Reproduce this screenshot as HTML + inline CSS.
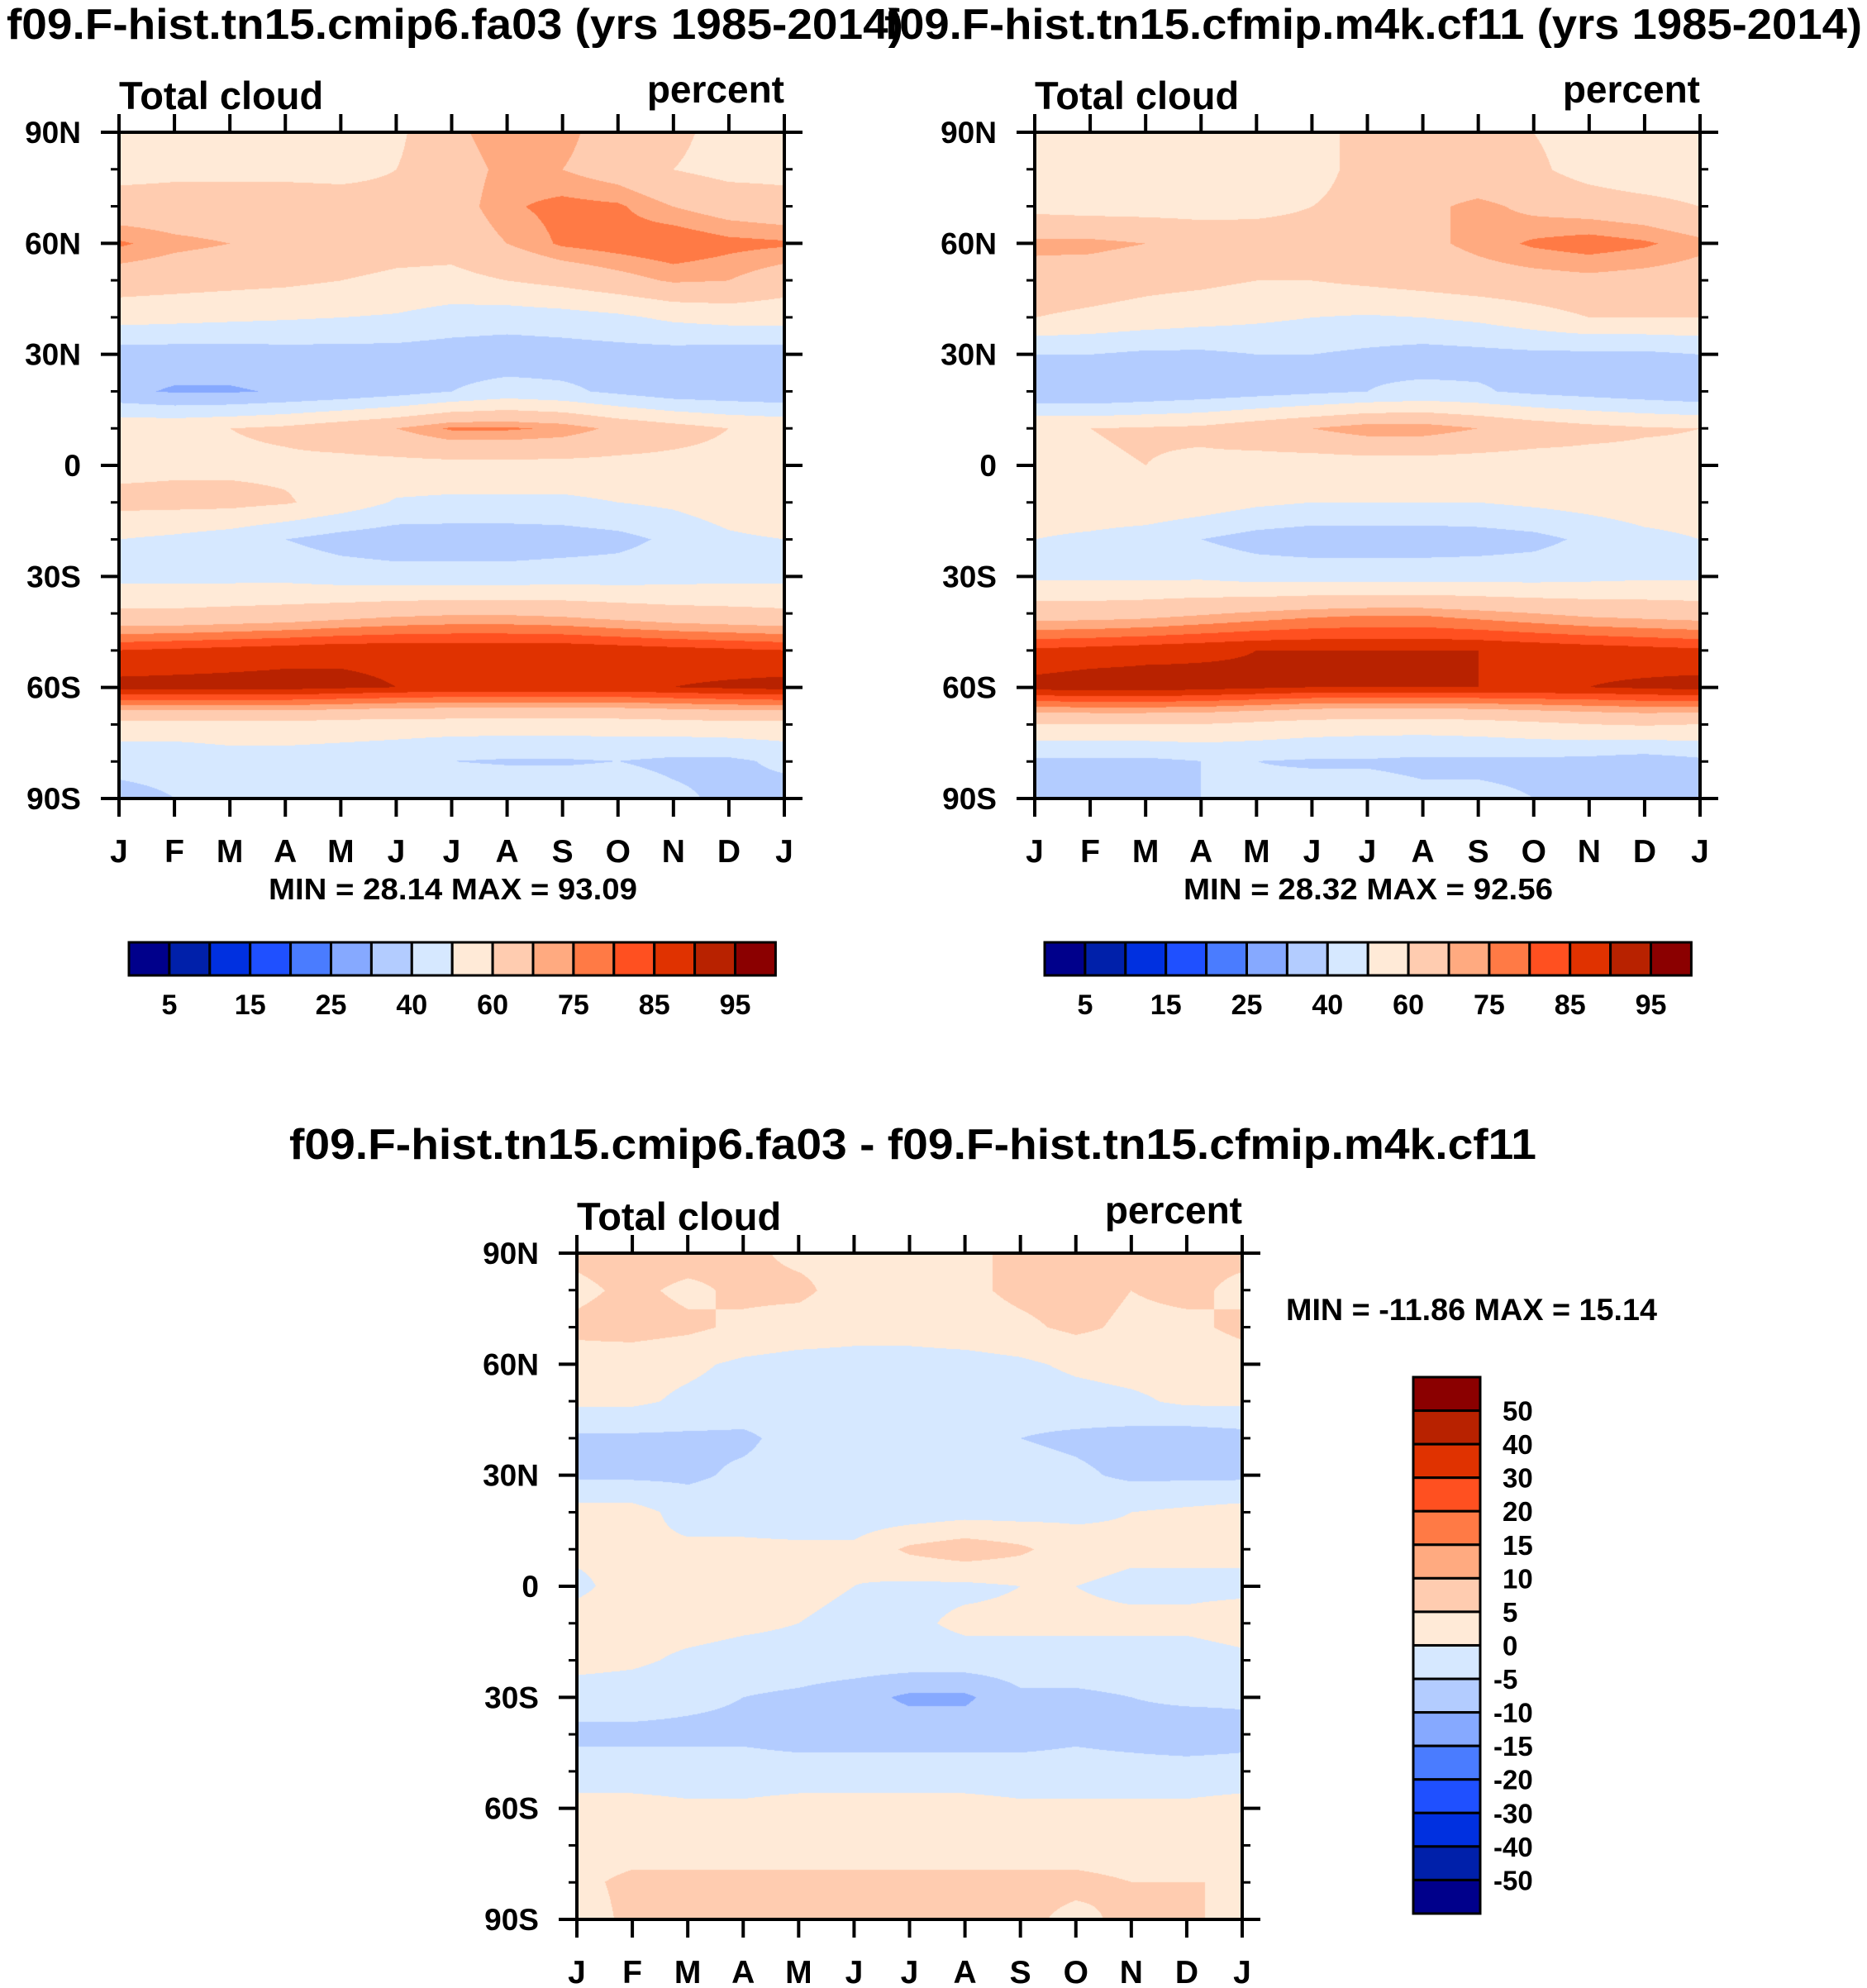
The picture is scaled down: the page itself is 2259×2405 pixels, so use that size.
<!DOCTYPE html>
<html><head><meta charset="utf-8">
<style>
html,body{margin:0;padding:0;background:#fff;}
#root{position:relative;width:2259px;height:2405px;overflow:hidden;font-family:"Liberation Sans",Arial,sans-serif;}
canvas{position:absolute;}
svg{position:absolute;left:0;top:0;}
</style></head>
<body>
<div id="root">
<canvas id="c1" width="805" height="806" style="left:144px;top:160px"></canvas>
<canvas id="c2" width="805" height="806" style="left:1252px;top:160px"></canvas>
<canvas id="c3" width="805" height="806" style="left:698px;top:1516px"></canvas>
<svg id="ov" width="2259" height="2405"></svg>
</div>
<script>
const months = ["J","F","M","A","M","J","J","A","S","O","N","D","J"];
const latLabels = ["90N","60N","30N","0","30S","60S","90S"];
const levelsAbs = [5,10,15,20,25,30,40,50,60,70,75,80,85,90,95];
const levelsDiff = [-50,-40,-30,-20,-15,-10,-5,0,5,10,15,20,30,40,50];
const cbLabelsAbs = ["5","15","25","40","60","75","85","95"];
const cbLabelsDiff = ["50","40","30","20","15","10","5","0","-5","-10","-15","-20","-30","-40","-50"];
const palette = ["#00008b","#0020aa","#0030e0","#1f50ff","#4a7cff","#86a9ff","#b3ccff","#d6e8ff",
 "#ffead7","#ffccb0","#ffaa80","#ff7a45","#ff5020","#e03200","#b82200","#8b0000"];
// rows: 90N,80N,...,90S ; columns J..J (13)
const fa03 = [
[56,56,57,57,56,58,68,74,72,66,62,57,56],
[57,58,58,58,58,60,66,72,70,66,60,57,57],
[64,64,64,64,63,62,66,74,77,76,70,66,64],
[76,72,70,67,66,64,64,70,76,78,80,77,76],
[65,64,63,62,60,58,57,60,63,67,71,70,65],
[54,53,52,51,50,49,46,45,46,48,52,54,54],
[35,35,35,36,36,36,35,34,35,36,36,35,35],
[32,29,29,31,33,36,40,44,42,38,34,33,32],
[58,58,60,62,66,70,76,76,74,68,64,60,58],
[57,58,58,58,57,57,57,57,57,57,57,57,57],
[63,63,63,61,56,49,48,48,48,50,52,56,60],
[50,48,45,40,36,34,34,34,35,37,42,48,50],
[47,47,47,47,45,44,44,44,45,45,46,47,47],
[62,62,63,64,66,68,69,69,68,66,64,63,62],
[85,86,87,88,89,89,89,89,89,88,87,86,85],
[92,92,92,92,91,90,89,89,89,89,90,91,92],
[57,57,57,57,56,55,55,55,55,55,56,57,57],
[42,42,45,45,44,43,40,39,39,40,38,38,42],
[38,40,45,46,46,47,48,48,47,46,42,38,36]];
const cf11 = [
[53,55,55,54,56,58,62,68,62,60,56,54,53],
[52,52,55,53,55,58,62,64,63,62,56,52,52],
[57,56,56,56,58,60,62,68,72,68,66,64,60],
[72,72,70,67,64,63,64,68,72,76,78,76,72],
[66,65,63,62,60,60,62,64,66,67,68,67,66],
[60,58,56,54,52,50,49,50,52,56,60,60,60],
[40,40,38,38,40,40,38,36,37,38,38,38,40],
[30,30,32,34,36,38,40,42,41,38,36,34,32],
[60,60,61,62,66,70,74,74,70,66,63,61,60],
[58,59,60,58,56,55,55,55,55,55,56,57,58],
[56,57,58,56,52,50,50,50,50,52,54,56,56],
[50,48,45,40,36,34,34,34,35,37,42,47,50],
[48,48,48,48,46,46,46,46,46,46,47,48,48],
[66,66,67,69,71,73,74,74,72,70,68,67,66],
[86,87,88,89,90,90,90,90,90,89,88,87,86],
[92,93,93,92,91,90,90,90,90,90,90,91,92],
[60,60,60,60,58,56,55,55,56,58,60,61,60],
[38,38,38,40,40,39,39,38,38,38,37,35,38],
[38,38,40,40,42,44,44,42,42,40,40,40,38]];
const diff = [
[6,7,7,6,4,4,3,4,6,7,7,6,6],
[4,6,4,6,6,3,2,4,6,7,5,6,4],
[6,7,6,4,3,2,2,3,4,6,4,4,6],
[3,2,1,-1,-2,-2,-2,-2,-1,1,2,2,3],
[1,1,-1,-2,-3,-3,-3,-3,-3,-2,-1,1,1],
[-6,-6,-6,-6,-3,-3,-3,-2,-5,-6,-7,-8,-7],
[-6,-6,-6,-4,-3,-3,-2,-2,-3,-4,-6,-6,-6],
[2,2,-2,-2,-3,-3,-3,-2,-2,-1,0,1,2],
[1,1,1,1,1,1,6,8,6,2,1,1,1],
[-1,2,2,3,1,0,-1,-1,0,0,-1,-1,-1],
[2,2,2,1,0,-1,-1,1,1,1,1,1,2],
[2,1,-1,-2,-2,-2,-2,-2,-2,-2,-2,-2,-1],
[-3,-3,-4,-5,-6,-8,-11,-11,-6,-6,-5,-4,-4],
[-6,-6,-6,-6,-7,-7,-7,-7,-7,-6,-7,-8,-7],
[-3,-3,-3,-3,-3,-3,-3,-3,-3,-3,-3,-3,-3],
[2,2,1,1,2,2,2,2,1,1,1,1,2],
[3,3,3,3,3,3,3,3,3,3,3,3,3],
[4,6,6,6,6,6,6,6,6,6,5,5,5],
[3,6,6,6,8,6,10,9,6,4,6,6,3]];

const W=805,H=806;
function hexRGB(h){return [parseInt(h.substr(1,2),16),parseInt(h.substr(3,2),16),parseInt(h.substr(5,2),16)];}
const pal = palette.map(hexRGB);
function drawField(id,data,levels){
  const cv=document.getElementById(id),ctx=cv.getContext('2d');
  const img=ctx.createImageData(W,H);
  const nr=data.length,nc=data[0].length;
  for(let y=0;y<H;y++){
    const fy=y/(H-1)*(nr-1);let r0=Math.floor(fy);if(r0>=nr-1)r0=nr-2;const ty=fy-r0;
    for(let x=0;x<W;x++){
      const fx=x/(W-1)*(nc-1);let c0=Math.floor(fx);if(c0>=nc-1)c0=nc-2;const tx=fx-c0;
      const v=(data[r0][c0]*(1-tx)+data[r0][c0+1]*tx)*(1-ty)+(data[r0+1][c0]*(1-tx)+data[r0+1][c0+1]*tx)*ty;
      let k=0;while(k<levels.length&&v>=levels[k])k++;
      const c=pal[k],i=(y*W+x)*4;
      img.data[i]=c[0];img.data[i+1]=c[1];img.data[i+2]=c[2];img.data[i+3]=255;
    }
  }
  ctx.putImageData(img,0,0);
}
drawField('c1',fa03,levelsAbs);
drawField('c2',cf11,levelsAbs);
drawField('c3',diff,levelsDiff);

const NS="http://www.w3.org/2000/svg";
const ov=document.getElementById('ov');
function el(tag,attrs,parent){const e=document.createElementNS(NS,tag);for(const k in attrs)e.setAttribute(k,attrs[k]);(parent||ov).appendChild(e);return e;}
function txt(s,attrs,name){const t=el('text',Object.assign({'font-family':'Liberation Sans, Arial, sans-serif','font-weight':'bold',fill:'#000'},attrs));t.textContent=s;


return t;}

function axes(px,py,tag){
  const g=el('g',{});
  
  
  const xs=i=>px+i*W/12, ys=j=>py+j*H/18;
  el('rect',{x:px,y:py,width:W,height:H,fill:'none',stroke:'#000','stroke-width':4},g);
  for(let i=0;i<=12;i++){
    el('line',{x1:xs(i),x2:xs(i),y1:py,y2:py-22,stroke:'#000','stroke-width':4},g);
    el('line',{x1:xs(i),x2:xs(i),y1:py+H,y2:py+H+22,stroke:'#000','stroke-width':4},g);
    txt(months[i],{x:xs(i),y:py+H+77,'font-size':39,'text-anchor':'middle'},tag+'-month-label');
  }
  for(let j=0;j<=18;j++){
    const L=(j%3===0)?22:10;
    el('line',{x1:px,x2:px-L,y1:ys(j),y2:ys(j),stroke:'#000','stroke-width':(j%3===0)?4:3},g);
    el('line',{x1:px+W,x2:px+W+L,y1:ys(j),y2:ys(j),stroke:'#000','stroke-width':(j%3===0)?4:3},g);
    if(j%3===0) txt(latLabels[j/3],{x:px-46,y:ys(j)+13,'font-size':37,'text-anchor':'end'},tag+'-lat-label');
  }
  txt("Total cloud",{x:px,y:py-28,'font-size':47},tag+'-variable-label');
  txt("percent",{x:px+W,y:py-36,'font-size':46,'text-anchor':'end'},tag+'-units-label');
}
axes(144,160,'panel1');
axes(1252,160,'panel2');
axes(698,1516,'panel3');

txt("f09.F-hist.tn15.cmip6.fa03 (yrs 1985-2014)",{x:8,y:47,'font-size':52,textLength:1085,lengthAdjust:'spacingAndGlyphs'},'panel1-title');
txt("f09.F-hist.tn15.cfmip.m4k.cf11 (yrs 1985-2014)",{x:1070,y:47,'font-size':52,textLength:1183,lengthAdjust:'spacingAndGlyphs'},'panel2-title');
txt("f09.F-hist.tn15.cmip6.fa03 - f09.F-hist.tn15.cfmip.m4k.cf11",{x:350,y:1402,'font-size':52,textLength:1509,lengthAdjust:'spacingAndGlyphs'},'difference-title');
txt("MIN =  28.14 MAX =  93.09",{x:325,y:1088,'font-size':36,textLength:446,lengthAdjust:'spacingAndGlyphs'},'panel1-minmax');
txt("MIN =  28.32 MAX =  92.56",{x:1432,y:1088,'font-size':36,textLength:447,lengthAdjust:'spacingAndGlyphs'},'panel2-minmax');
txt("MIN = -11.86 MAX =  15.14",{x:1556,y:1597,'font-size':37,textLength:449,lengthAdjust:'spacingAndGlyphs'},'panel3-minmax');

function hbar(x0,y0,tag){
  const bw=48.9;
  for(let k=0;k<16;k++){
    const r=el('rect',{x:x0+k*bw,y:y0,width:bw,height:40,fill:palette[k],stroke:'#000','stroke-width':3});
    
    
  }
  cbLabelsAbs.forEach((s,i)=>txt(s,{x:x0+(2*i+1)*bw,y:y0+87,'font-size':34,'text-anchor':'middle'},tag+'-label'));
}
hbar(156,1140,'colorbar1');
hbar(1264,1140,'colorbar2');
(function(){
  const x0=1710,y0=1666,bh=40.56;
  for(let k=0;k<16;k++){
    const r=el('rect',{x:x0,y:y0+k*bh,width:81,height:bh,fill:palette[15-k],stroke:'#000','stroke-width':3});
    
    
  }
  cbLabelsDiff.forEach((s,i)=>txt(s,{x:s.startsWith('-')?1807:1818,y:y0+(i+1)*bh+12,'font-size':33},'colorbar3-label'));
})();
</script>
</body></html>
